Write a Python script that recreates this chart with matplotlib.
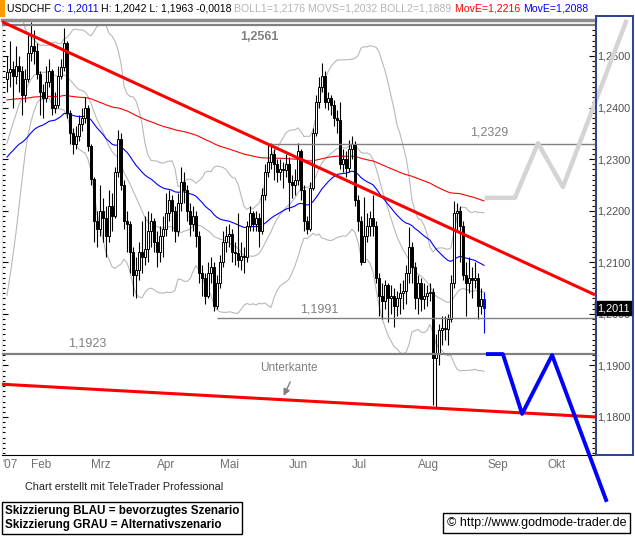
import numpy as np
import pandas as pd
import matplotlib
matplotlib.use('Agg')
import matplotlib.pyplot as plt
import matplotlib.transforms as mtransforms
from matplotlib.patches import Rectangle
from matplotlib.ticker import MultipleLocator, FuncFormatter

plt.rcParams['font.family'] = ['Liberation Sans', 'DejaVu Sans']

# daily USDCHF candles, 22.01.2007 - 31.08.2007
first_open = 1.2455
close = [
    1.2468, 1.2475, 1.2462, 1.2480, 1.2470, 1.2425, 1.2455, 1.2505, 1.2520, 1.2510,
    1.2465, 1.2430, 1.2418, 1.2450, 1.2470, 1.2400, 1.2405, 1.2462, 1.2478, 1.2525,
    1.2390, 1.2350, 1.2330, 1.2345, 1.2368, 1.2380, 1.2400, 1.2325, 1.2262, 1.2180,
    1.2165, 1.2200, 1.2185, 1.2150, 1.2210, 1.2190, 1.2275, 1.2340, 1.2250, 1.2180,
    1.2175, 1.2120, 1.2075, 1.2085, 1.2120, 1.2110, 1.2125, 1.2160, 1.2180, 1.2140,
    1.2120, 1.2150, 1.2165, 1.2195, 1.2220, 1.2200, 1.2160, 1.2215, 1.2255, 1.2240,
    1.2200, 1.2175, 1.2190, 1.2150, 1.2080, 1.2070, 1.2035, 1.2080, 1.2090, 1.2015,
    1.2060, 1.2100, 1.2140, 1.2150, 1.2155, 1.2120, 1.2118, 1.2105, 1.2112, 1.2110,
    1.2170, 1.2195, 1.2175, 1.2185, 1.2160, 1.2230, 1.2275, 1.2295, 1.2310, 1.2290,
    1.2275, 1.2280, 1.2278, 1.2290, 1.2255, 1.2250, 1.2260, 1.2315, 1.2240, 1.2180,
    1.2165, 1.2245, 1.2350, 1.2410, 1.2440, 1.2462, 1.2410, 1.2418, 1.2405, 1.2380,
    1.2375, 1.2290, 1.2300, 1.2282, 1.2320, 1.2330, 1.2220, 1.2180, 1.2100, 1.2150,
    1.2170, 1.2185, 1.2170, 1.2070, 1.2035, 1.2025, 1.2055, 1.2030, 1.2035, 1.2015,
    1.2030, 1.2040, 1.2045, 1.2080, 1.2130, 1.2090, 1.2030, 1.2060, 1.2028, 1.2035,
    1.2040, 1.2043, 1.1915, 1.1925, 1.1968, 1.1972, 1.1970, 1.1990, 1.2060, 1.2195,
    1.2200, 1.2170, 1.2075, 1.2060, 1.2070, 1.2065, 1.2070, 1.2015, 1.2029, 1.2011,
]
high = [
    1.2500, 1.2530, 1.2490, 1.2520, 1.2500, 1.2480, 1.2475, 1.2540, 1.2565, 1.2550,
    1.2525, 1.2470, 1.2445, 1.2480, 1.2495, 1.2475, 1.2430, 1.2480, 1.2495, 1.2555,
    1.2530, 1.2395, 1.2360, 1.2365, 1.2385, 1.2400, 1.2420, 1.2405, 1.2330, 1.2265,
    1.2200, 1.2250, 1.2225, 1.2210, 1.2240, 1.2235, 1.2285, 1.2357, 1.2350, 1.2260,
    1.2200, 1.2180, 1.2130, 1.2110, 1.2140, 1.2180, 1.2190, 1.2200, 1.2195, 1.2185,
    1.2160, 1.2170, 1.2190, 1.2235, 1.2240, 1.2230, 1.2210, 1.2235, 1.2285, 1.2275,
    1.2250, 1.2215, 1.2210, 1.2200, 1.2160, 1.2095, 1.2080, 1.2100, 1.2110, 1.2100,
    1.2075, 1.2115, 1.2160, 1.2170, 1.2175, 1.2165, 1.2140, 1.2195, 1.2140, 1.2130,
    1.2180, 1.2210, 1.2200, 1.2200, 1.2195, 1.2245, 1.2290, 1.2331, 1.2331, 1.2320,
    1.2300, 1.2300, 1.2295, 1.2310, 1.2305, 1.2270, 1.2280, 1.2331, 1.2320, 1.2250,
    1.2190, 1.2255, 1.2360, 1.2425, 1.2460, 1.2486, 1.2470, 1.2430, 1.2425, 1.2415,
    1.2395, 1.2410, 1.2320, 1.2315, 1.2337, 1.2345, 1.2335, 1.2230, 1.2190, 1.2227,
    1.2195, 1.2200, 1.2230, 1.2180, 1.2080, 1.2060, 1.2065, 1.2060, 1.2055, 1.2050,
    1.2045, 1.2060, 1.2065, 1.2095, 1.2169, 1.2140, 1.2100, 1.2075, 1.2070, 1.2060,
    1.2055, 1.2060, 1.2050, 1.1960, 1.1980, 1.1995, 1.1995, 1.2000, 1.2075, 1.2218,
    1.2215, 1.2210, 1.2180, 1.2100, 1.2110, 1.2090, 1.2100, 1.2080, 1.2050, 1.2042,
]
low = [
    1.2430, 1.2440, 1.2400, 1.2445, 1.2430, 1.2385, 1.2410, 1.2450, 1.2490, 1.2485,
    1.2455, 1.2385, 1.2380, 1.2410, 1.2440, 1.2385, 1.2390, 1.2400, 1.2455, 1.2470,
    1.2380, 1.2330, 1.2310, 1.2320, 1.2335, 1.2355, 1.2370, 1.2315, 1.2250, 1.2140,
    1.2130, 1.2150, 1.2140, 1.2110, 1.2140, 1.2160, 1.2185, 1.2265, 1.2240, 1.2165,
    1.2120, 1.2080, 1.2035, 1.2030, 1.2065, 1.2080, 1.2095, 1.2100, 1.2130, 1.2120,
    1.2090, 1.2100, 1.2110, 1.2150, 1.2180, 1.2160, 1.2140, 1.2150, 1.2200, 1.2215,
    1.2180, 1.2150, 1.2160, 1.2130, 1.2060, 1.2035, 1.2020, 1.2030, 1.2060, 1.2005,
    1.2010, 1.2050, 1.2090, 1.2120, 1.2130, 1.2100, 1.2095, 1.2090, 1.2085, 1.2080,
    1.2100, 1.2160, 1.2160, 1.2160, 1.2130, 1.2155, 1.2220, 1.2265, 1.2280, 1.2260,
    1.2255, 1.2260, 1.2245, 1.2265, 1.2200, 1.2225, 1.2230, 1.2250, 1.2220, 1.2160,
    1.2155, 1.2160, 1.2240, 1.2345, 1.2400, 1.2430, 1.2400, 1.2395, 1.2385, 1.2365,
    1.2350, 1.2280, 1.2275, 1.2265, 1.2275, 1.2300, 1.2210, 1.2160, 1.2095, 1.2100,
    1.2140, 1.2150, 1.2150, 1.2060, 1.1995, 1.1990, 1.2010, 1.1985, 1.2000, 1.1975,
    1.1995, 1.2000, 1.2010, 1.2020, 1.2060, 1.2060, 1.2010, 1.2000, 1.2005, 1.2010,
    1.2015, 1.2025, 1.1823, 1.1820, 1.1900, 1.1940, 1.1950, 1.1940, 1.1985, 1.2050,
    1.2160, 1.2100, 1.2065, 1.1995, 1.2040, 1.2030, 1.2050, 1.1990, 1.2000, 1.1963,
]
# closes before the first visible day, only used to start the Bollinger bands
warmup_close = [1.2080, 1.2095, 1.2110, 1.2120, 1.2150, 1.2200, 1.2260, 1.2310, 1.2350, 1.2380,
                1.2400, 1.2420, 1.2440, 1.2455, 1.2470, 1.2480, 1.2490, 1.2485, 1.2460]
ema_fast_start = 1.2304   # blue MovE at first day
ema_slow_start = 1.2415   # red MovE at first day

# horizontal marks: level, first day index
levels = [1.2561, 1.2329, 1.1991, 1.1923]
level_start = [None, 87, 70, None]

# trend lines (day index, price)
trend_hi = [(0, 1.2562), (159, 1.2136)]
trend_lo = [(0, 1.1863), (159, 1.1812)]

# scenario sketches (day index, price)
blue_x = [160.3, 165.3, 171.7, 181.7, 199.7]
blue_y = [1.1922, 1.1922, 1.1806, 1.1920, 1.1639]
grey_x = [160.0, 169.3, 177.0, 185.3, 206.3]
grey_y = [1.2225, 1.2225, 1.2331, 1.2246, 1.2566]

months = ['Feb', 'Mrz', 'Apr', 'Mai', 'Jun', 'Jul', 'Aug', 'Sep', 'Okt']

# ---------------------------------------------------------------
close = np.array(close)
high = np.array(high)
low = np.array(low)
opn = np.r_[first_open, close[:-1]]
n = len(close)
x = np.arange(n)

all_days = pd.bdate_range('2007-01-22', '2007-10-31')
month_pos = [int(np.searchsorted(all_days, pd.Timestamp(2007, m, 1))) for m in range(2, 11)]


def ema(vals, period, start):
    a = 2.0 / (period + 1)
    out = [start]
    for v in vals[1:]:
        out.append(out[-1] + a * (v - out[-1]))
    return np.array(out)


ema_fast = ema(close, 50, ema_fast_start)
ema_slow = ema(close, 200, ema_slow_start)
s = pd.Series(np.r_[warmup_close, close])
movs = s.rolling(20).mean().values[-n:]
sd = s.rolling(20).std(ddof=0).values[-n:]
boll1 = movs + 2 * sd
boll2 = movs - 2 * sd

W, H = 635, 539
fig = plt.figure(figsize=(W / 100, H / 100), dpi=100)
ax = fig.add_axes([2 / W, (H - 455) / H, 593 / W, 435 / H])
ax.set_xlim(-1.67, 196)
ax.set_ylim(1.17263, 1.25698)

# indicators
ax.plot(x, boll1, color='#b8b8b8', lw=0.8, zorder=1)
ax.plot(x, movs, color='#b8b8b8', lw=0.8, zorder=1)
ax.plot(x, boll2, color='#b8b8b8', lw=0.8, zorder=1)
ax.plot(x, ema_slow, color='#ff0000', lw=0.8, zorder=2)
ax.plot(x, ema_fast, color='#0000ff', lw=0.8, zorder=2)

# candles
up = close >= opn
bot = np.minimum(opn, close)
hgt = np.maximum(np.abs(close - opn), 0.00012)
ax.vlines(x[:-1], low[:-1], high[:-1], color='black', lw=0.8, zorder=3)
ax.bar(x[:-1][up[:-1]], hgt[:-1][up[:-1]], bottom=bot[:-1][up[:-1]], width=0.8,
       color='white', edgecolor='black', linewidth=0.7, zorder=4)
ax.bar(x[:-1][~up[:-1]], hgt[:-1][~up[:-1]], bottom=bot[:-1][~up[:-1]], width=0.8,
       color='black', edgecolor='black', linewidth=0.7, zorder=4)
ax.vlines(x[-1], low[-1], high[-1], color='#0000ff', lw=0.8, zorder=3)
ax.bar(x[-1], hgt[-1], bottom=bot[-1], width=0.8, color='#0000ff',
       edgecolor='#0000ff', linewidth=0.7, zorder=4)

# horizontal levels
x0, x1 = ax.get_xlim()
for lv, st in zip(levels, level_start):
    lw = 1.6 if st is None else 1.0
    ax.hlines(lv, x0 if st is None else st, x1, color='#808080', lw=lw, zorder=5)
ax.axhline(ax.get_ylim()[1], color='#8c8c8c', lw=2.5, zorder=5, clip_on=False)

ax.text(77.7, 1.2537, '1,2561', color='#808080', fontsize=9, fontweight='bold', va='center')
ax.text(154.3, 1.2351, '1,2329', color='#808080', fontsize=9, va='center')
ax.text(97.7, 1.2009, '1,1991', color='#808080', fontsize=9, va='center')
ax.text(20.3, 1.1943, '1,1923', color='#808080', fontsize=9, va='center')
ax.text(84.3, 1.1895, 'Unterkante', color='#808080', fontsize=8.5, va='center')
ax.annotate('', xy=(91.8, 1.1836), xytext=(94.8, 1.1873),
            arrowprops=dict(arrowstyle='-|>', color='#808080', lw=1.0, mutation_scale=10))

# trend lines, stretched over the whole width
for (ta, pa), (tb, pb) in [trend_hi, trend_lo]:
    k = (pb - pa) / (tb - ta)
    ax.plot([x0, x1], [pa + k * (x0 - ta), pa + k * (x1 - ta)], color='#ff0000',
            lw=2.2, zorder=6, solid_capstyle='butt')

# scenarios
ax.plot(grey_x, grey_y, color='#d4d4d4', lw=3.2, zorder=7, clip_on=False)
ax.plot(blue_x, blue_y, color='#0000ff', lw=2.8, zorder=8, clip_on=False)

# axes styling
ax.spines['top'].set_visible(False)
ax.spines['right'].set_color('#f2c14e')
ax.spines['right'].set_linewidth(1.0)
ax.spines['bottom'].set_color('black')
ax.spines['left'].set_color('#dddddd')
ax.spines['left'].set_linewidth(0.6)
ax.yaxis.set_major_locator(MultipleLocator(0.01))
ax.yaxis.set_minor_locator(MultipleLocator(0.001))
ax.yaxis.set_major_formatter(FuncFormatter(lambda v, _: f'{v:.4f}'.replace('.', ',')))
ax.tick_params(axis='y', which='both', left=True, right=True, labelleft=False,
               labelright=True, direction='in', color='black', labelsize=7.8,
               labelcolor='#505050', pad=1.5)
ax.tick_params(axis='y', which='major', length=4, width=0.8)
ax.tick_params(axis='y', which='minor', length=2, width=0.8)
ax.set_xticks([-1.67] + month_pos)
ax.set_xticklabels(["'07"] + months, ha='left')
ax.tick_params(axis='x', length=0, labelsize=8.5, labelcolor='#707070', pad=3)

# last price box
tr = mtransforms.blended_transform_factory(ax.transAxes, ax.transData)
ax.text(1.004, close[-1], f'{close[-1]:.4f}'.replace('.', ','), transform=tr, color='white',
        fontsize=7.8, va='center', ha='left', zorder=10,
        bbox=dict(boxstyle='square,pad=0.2', fc='black', ec='black'))

# right panel frame
fig.add_artist(Rectangle((596 / W, (H - 455) / H), 37 / W, 439 / H, transform=fig.transFigure,
                         fill=False, ec='#2a3f9a', lw=1.4))
# header
fig.add_artist(Rectangle((0, (H - 17) / H), 5 / W, 17 / H, transform=fig.transFigure,
                         color='#ff9900', lw=0))
pieces = [('USDCHF ', 'black'), ('C: 1,2011 ', '#0000ff'),
          ('H: 1,2042 L: 1,1963 -0,0018 ', 'black'),
          ('BOLL1=1,2176 MOVS=1,2032 BOLL2=1,1889 ', '#b4b4b4'),
          ('MovE=1,2216 ', '#ff0000'), ('MovE=1,2088', '#0000ff')]
renderer = fig.canvas.get_renderer()
xpos = 7
for txt, col in pieces:
    t = fig.text(xpos / W, 1 - 8.5 / H, txt, color=col, fontsize=7.6, va='center', ha='left')
    bb = t.get_window_extent(renderer)
    xpos += bb.width

fig.text(25 / W, 1 - 487 / H, 'Chart erstellt mit TeleTrader Professional', fontsize=7.8,
         color='#222222', va='center')
fig.text(5 / W, 1 - 518 / H, 'Skizzierung BLAU = bevorzugtes Szenario\nSkizzierung GRAU = Alternativszenario',
         fontsize=8.4, fontweight='bold', va='center', linespacing=1.3,
         bbox=dict(boxstyle='square,pad=0.22', fc='white', ec='black', lw=1))
fig.text(447 / W, 1 - 523 / H, '\u00a9 http://www.godmode-trader.de', fontsize=9, va='center',
         bbox=dict(boxstyle='square,pad=0.3', fc='white', ec='black', lw=1))

fig.savefig('out.png', dpi=100)
